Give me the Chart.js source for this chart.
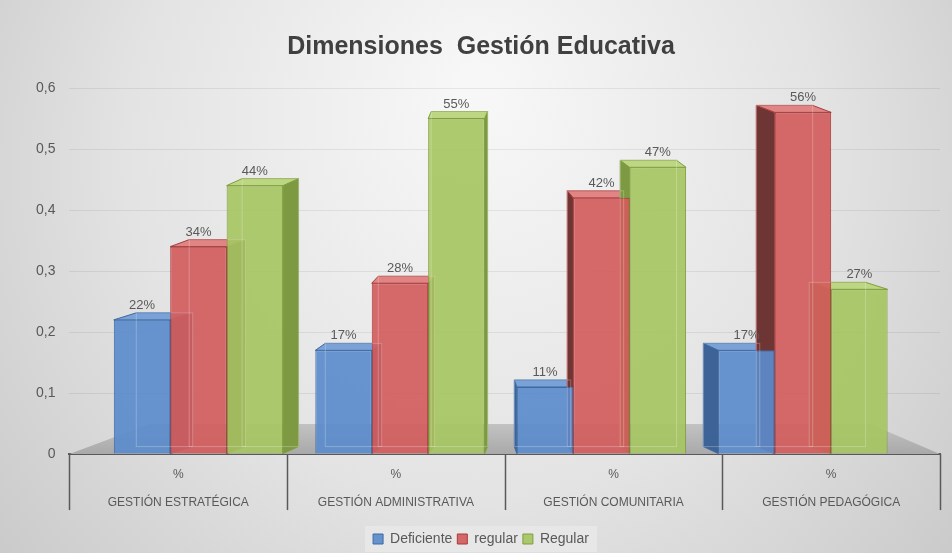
<!DOCTYPE html>
<html>
<head>
<meta charset="utf-8">
<script src="https://cdn.jsdelivr.net/npm/chart.js@4.4.0/dist/chart.umd.min.js"></script>
<style>
  html, body { margin: 0; padding: 0; background: #fff; }
  #wrap { width: 952px; height: 553px; position: relative; }
</style>
</head>
<body>
<div id="wrap"><canvas id="chart"></canvas></div>
<script>
const categories = [
    ['%', 'GESTIÓN ESTRATÉGICA'],
    ['%', 'GESTIÓN ADMINISTRATIVA'],
    ['%', 'GESTIÓN COMUNITARIA'],
    ['%', 'GESTIÓN PEDAGÓGICA']
];
const seriesNames = ['Deficiente', 'regular', 'Regular'];
const deficiente = [0.22, 0.17, 0.11, 0.17];
const regularBajo = [0.34, 0.28, 0.42, 0.56];
const regularAlto = [0.44, 0.55, 0.47, 0.27];

const FONT = "'Liberation Sans', Arial, sans-serif";
const TEXT = '#595959';

// colours: front, border, side, top
const palette = [
    { front: 'rgba(91,139,203,0.92)', border: '#3d6aa5', side: '#3e6396', top: '#7aa2d6' },
    { front: 'rgba(210,92,92,0.92)', border: '#a83a3a', side: '#6e3535', top: '#e08484' },
    { front: 'rgba(166,198,98,0.92)', border: '#7f9f3f', side: '#7d9a42', top: '#bcd681' }
];

function depthOf(chart, x) {
    const a = chart.chartArea;
    const cx = (a.left + a.right) / 2;
    return { dx: (cx - x) * 0.062, dy: -7 };
}

const background = {
    id: 'background',
    beforeDraw(chart) {
        const { ctx, width, height } = chart;
        const g = ctx.createRadialGradient(width / 2, 90, 20, width / 2, 200, 620);
        g.addColorStop(0, '#f7f7f7');
        g.addColorStop(0.55, '#e3e3e3');
        g.addColorStop(1, '#c8c8c8');
        ctx.save();
        ctx.fillStyle = g;
        ctx.fillRect(0, 0, width, height);
        // light panel behind the legend
        const boxes = chart.legend && chart.legend.legendHitBoxes;
        if (boxes && boxes.length) {
            const l = Math.min(...boxes.map(b => b.left)) - 8;
            const r = Math.max(...boxes.map(b => b.left + b.width)) + 8;
            const t = Math.min(...boxes.map(b => b.top)) - 6;
            const b2 = Math.max(...boxes.map(b => b.top + b.height)) + 6;
            ctx.fillStyle = 'rgba(232,232,232,0.9)';
            ctx.fillRect(l, t, r - l, b2 - t);
        }
        ctx.restore();
    }
};

const floor3d = {
    id: 'floor3d',
    beforeDatasetsDraw(chart) {
        const { ctx, chartArea: a } = chart;
        const y0 = chart.scales.y.getPixelForValue(0);
        ctx.save();
        const g = ctx.createLinearGradient(0, y0 - 32, 0, y0);
        g.addColorStop(0, '#c4c4c4');
        g.addColorStop(1, '#a9a9a9');
        ctx.fillStyle = g;
        ctx.beginPath();
        ctx.moveTo(a.left, y0);
        ctx.lineTo(a.right, y0);
        ctx.lineTo(a.right - 70, y0 - 30);
        ctx.lineTo(a.left + 80, y0 - 30);
        ctx.closePath();
        ctx.fill();

        // side and top faces of every bar, behind the fronts
        chart.data.datasets.forEach((ds, i) => {
            const meta = chart.getDatasetMeta(i);
            const col = palette[i];
            meta.data.forEach(el => {
                const { x, y, base, width } = el.getProps(['x', 'y', 'base', 'width'], true);
                const { dx, dy } = depthOf(chart, x);
                const l = x - width / 2, r = x + width / 2;
                const edge = dx > 0 ? r : l;
                ctx.fillStyle = col.side;
                ctx.strokeStyle = col.border;
                ctx.lineWidth = 1;
                ctx.beginPath();
                ctx.moveTo(edge, y);
                ctx.lineTo(edge + dx, y + dy);
                ctx.lineTo(edge + dx, base + dy);
                ctx.lineTo(edge, base);
                ctx.closePath();
                ctx.fill();
                ctx.stroke();
                ctx.fillStyle = col.top;
                ctx.beginPath();
                ctx.moveTo(l, y);
                ctx.lineTo(r, y);
                ctx.lineTo(r + dx, y + dy);
                ctx.lineTo(l + dx, y + dy);
                ctx.closePath();
                ctx.fill();
                ctx.stroke();
            });
        });
        ctx.restore();
    }
};

const barInner = {
    id: 'barInner',
    afterDatasetsDraw(chart) {
        const { ctx } = chart;
        ctx.save();
        chart.data.datasets.forEach((ds, i) => {
            const meta = chart.getDatasetMeta(i);
            meta.data.forEach((el, j) => {
                const { x, y, base, width } = el.getProps(['x', 'y', 'base', 'width'], true);
                const { dx, dy } = depthOf(chart, x);
                // faint back edges seen through the translucent front
                ctx.strokeStyle = 'rgba(255,255,255,0.25)';
                ctx.lineWidth = 1;
                ctx.strokeRect(x - width / 2 + dx, y + dy, width, base - y);
                // value label
                ctx.fillStyle = TEXT;
                ctx.font = '13px ' + FONT;
                ctx.textAlign = 'center';
                ctx.textBaseline = 'bottom';
                ctx.fillText(Math.round(ds.data[j].y * 100) + '%', x, y + dy - 1);
            });
        });
        ctx.restore();
    }
};

const groupDividers = {
    id: 'groupDividers',
    afterDraw(chart) {
        const { ctx } = chart;
        const xs = chart.scales.x;
        const step = xs.getPixelForValue(1) - xs.getPixelForValue(0);
        ctx.save();
        ctx.strokeStyle = '#595959';
        ctx.lineWidth = 1.5;
        for (let i = 0; i <= categories.length; i++) {
            const px = Math.round(xs.getPixelForValue(0) - step / 2 + i * step) + 0.5;
            ctx.beginPath();
            ctx.moveTo(px, xs.top);
            ctx.lineTo(px, xs.top + 56);
            ctx.stroke();
        }
        ctx.restore();
    }
};

const toPoints = arr => arr.map((v, i) => ({ x: i, y: v }));

new Chart(document.getElementById('chart').getContext('2d'), {
    type: 'bar',
    data: {
        labels: categories,
        datasets: [deficiente, regularBajo, regularAlto].map((d, i) => ({
            label: seriesNames[i],
            data: toPoints(d),
            xAxisID: 'xb',
            backgroundColor: palette[i].front,
            borderColor: palette[i].border,
            borderWidth: 1,
            categoryPercentage: 0.84,
            barPercentage: 1.0
        }))
    },
    options: {
        responsive: true,
        maintainAspectRatio: false,
        animation: false,
        layout: { padding: { left: 22, right: 12, top: 10, bottom: -3 } },
        plugins: {
            title: {
                display: true,
                text: 'Dimensiones  Gestión Educativa',
                color: '#404040',
                font: { family: FONT, size: 25, weight: 'bold' },
                padding: { top: 22, bottom: 26 }
            },
            legend: {
                position: 'bottom',
                labels: {
                    color: TEXT,
                    boxWidth: 10,
                    boxHeight: 10,
                    padding: 5,
                    font: { family: FONT, size: 14 }
                }
            },
            tooltip: { enabled: false }
        },
        scales: {
            x: {
                type: 'category',
                offset: true,
                grid: { display: false },
                border: { color: '#595959', width: 2 },
                ticks: {
                    color: TEXT,
                    padding: -1,
                    maxRotation: 0,
                    font: { family: FONT, size: 12, lineHeight: 2.33 }
                },
                afterFit: scale => { scale.height += 11; }
            },
            xb: {
                type: 'linear',
                position: 'bottom',
                display: false,
                offset: false,
                min: -0.64,
                max: 3.68,
                ticks: { stepSize: 1, includeBounds: false }
            },
            y: {
                min: 0,
                max: 0.6,
                ticks: {
                    stepSize: 0.1,
                    color: TEXT,
                    padding: 14,
                    font: { family: FONT, size: 14 },
                    callback: v => String(Math.round(v * 10) / 10).replace('.', ',')
                },
                grid: { color: 'rgba(0,0,0,0.07)', drawTicks: false },
                border: { display: false }
            }
        }
    },
    plugins: [background, floor3d, barInner, groupDividers]
});
</script>
</body>
</html>
